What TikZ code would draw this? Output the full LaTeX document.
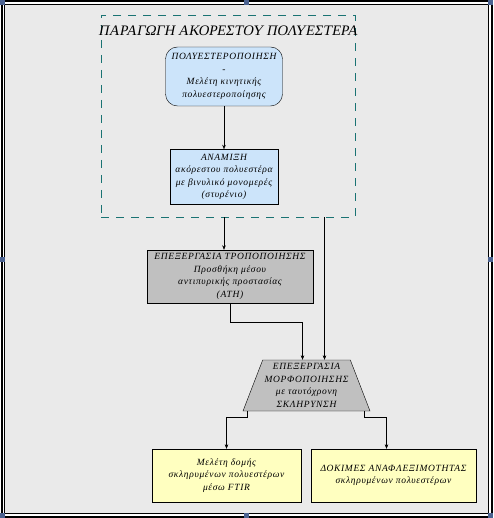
\documentclass[tikz,border=0pt]{standalone}
\usepackage{fontspec}
\setmainfont{Liberation Serif}
\newfontfamily\spacedfont[LetterSpace=7]{Liberation Serif}
\newfontfamily\titlefont[FakeSlant=0.2]{Liberation Serif}
\usetikzlibrary{shapes.geometric, arrows.meta}

\definecolor{sheetgray}{HTML}{EAEAEA}
\definecolor{paleblue}{HTML}{CCE4FA}
\definecolor{midgray}{HTML}{C0C0C0}
\definecolor{paleyellow}{HTML}{FFFFC0}
\definecolor{dashteal}{HTML}{1A7373}
\definecolor{handleblue}{HTML}{4C6391}

\begin{document}
\begin{tikzpicture}[x=1pt, y=-1pt,
    % Base node styles
    box/.style={rectangle, draw=black, thin, align=center, inner sep=0pt,
      font=\spacedfont\itshape\fontsize{9.5}{12.5}\selectfont},
    % Specific styles based on the image's color scheme
    bluestep/.style={box, fill=paleblue},
    roundstep/.style={bluestep, rounded corners=12pt},
    graystep/.style={box, fill=midgray},
    yellowstep/.style={box, fill=paleyellow},
    trapstep/.style={box, shape=trapezium, fill=midgray, trapezium left angle=66.7,
      trapezium right angle=66.7, trapezium stretches=true},
    % Grouping styles
    groupbox/.style={rectangle, draw=dashteal, dash pattern=on 8pt off 7pt, line width=0.9pt, inner sep=0pt},
    grouptitle/.style={font=\titlefont\fontsize{14.5}{17}\selectfont, inner sep=0pt},
    % Arrow style
    arrow/.style={-{Stealth[length=4.5pt, width=3.5pt]}, thin, draw=black},
    handle/.style={fill=handleblue}
  ]
  \useasboundingbox (0,0) rectangle (493,518);

  % ==========================================
  % 0. Sheet and frame
  % ==========================================
  \fill[sheetgray] (4.5,4.5) rectangle (488.5,513.5);
  \draw[line width=2pt] (1.5,1.5) rectangle (491.5,516.5);
  \draw[line width=1pt] (4.5,4.5) rectangle (488.5,513.5);

  % ==========================================
  % 1. Top Section: Production group
  % ==========================================
  \node[groupbox, minimum width=254, minimum height=202] (production) at (228,116) {};
  \node[grouptitle] (production_title) at (228,31) {ΠΑΡΑΓΩΓΗ ΑΚΟΡΕΣΤΟΥ ΠΟΛΥΕΣΤΕΡΑ};

  \node[roundstep, minimum width=117, minimum height=59] (polyester) at (224,76.5)
    {ΠΟΛΥΕΣΤΕΡΟΠΟΙΗΣΗ\\-\\Μελέτη κινητικής\\πολυεστεροποίησης};
  \node[bluestep, minimum width=108, minimum height=55] (mixing) at (224,177)
    {ΑΝΑΜΙΞΗ\\ακόρεστου πολυεστέρα\\με βινυλικό μονομερές\\(στυρένιο)};

  % ==========================================
  % 2. Middle Section: Processing
  % ==========================================
  \node[graystep, minimum width=166, minimum height=53] (modify) at (230,276.5)
    {ΕΠΕΞΕΡΓΑΣΙΑ ΤΡΟΠΟΠΟΙΗΣΗΣ\\Προσθήκη μέσου\\αντιπυρικής προστασίας\\(ΑΤΗ)};
  \node[trapstep, minimum width=127, minimum height=51] (shaping) at (306.5,385.5)
    {ΕΠΕΞΕΡΓΑΣΙΑ\\ΜΟΡΦΟΠΟΙΗΣΗΣ\\με ταυτόχρονη\\ΣΚΛΗΡΥΝΣΗ};

  % ==========================================
  % 3. Bottom Section: Tests
  % ==========================================
  \node[yellowstep, minimum width=149, minimum height=53] (ftir) at (226.5,475.5)
    {Μελέτη δομής\\σκληρυμένων πολυεστέρων\\μέσω FTIR};
  \node[yellowstep, minimum width=165, minimum height=53] (flame) at (393.5,475.5)
    {ΔΟΚΙΜΕΣ ΑΝΑΦΛΕΞΙΜΟΤΗΤΑΣ\\σκληρυμένων πολυεστέρων};

  % ==========================================
  % 4. Edges & Flow Routing
  % ==========================================
  \draw[arrow] (polyester) -- (mixing);
  \draw[arrow] (production.south -| mixing) -- (modify.north -| mixing);
  \draw[arrow] ([xshift=18]shaping.north |- production.south) -- ([xshift=18]shaping.north);
  \draw[arrow] (modify.south) -- ++(0,19) -| ([xshift=-4]shaping.north);

  % Branching outputs to the tests
  \draw[arrow] ([xshift=4]shaping.bottom left corner) -- ++(0,6) -| (ftir.north);
  \draw[arrow] ([xshift=-6]shaping.bottom right corner) -- ++(0,6) -| ([xshift=-7]flame.north);

  % Selection handles
  \foreach \hx/\hy in {0/0, 243.5/0, 488/0, 0/256.5, 488/256.5, 0/513, 243.5/513, 488/513}
    \fill[handle] (\hx,\hy) rectangle +(5,5);
\end{tikzpicture}
\end{document}
